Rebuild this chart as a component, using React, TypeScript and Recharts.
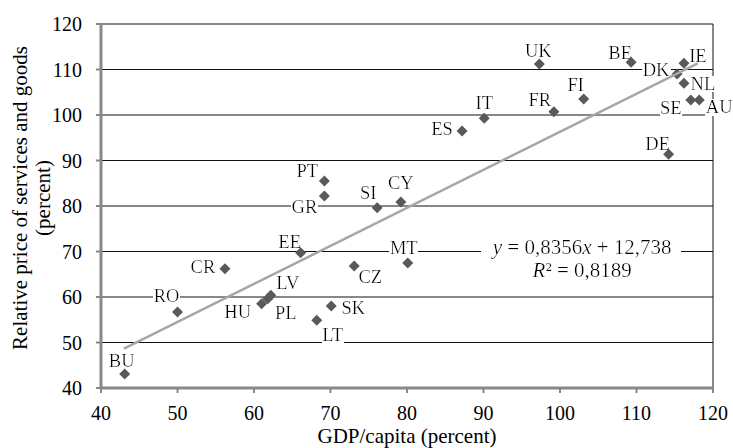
import React from "react";
import { ScatterChart, Scatter, XAxis, YAxis, CartesianGrid, ReferenceDot } from "recharts";

// EU member states: GDP per capita vs relative price level (EU = 100)
const countries = [
  "BU", "RO", "CR", "HU", "LV", "PL", "EE", "LT", "SK", "CZ", "MT", "PT", "GR", "SI",
  "CY", "ES", "IT", "UK", "FR", "FI", "BE", "DK", "IE", "NL", "SE", "AU", "DE",
];
const gdpPerCapita = [
  43.1, 50, 56.2, 61, 62.2, 61.8, 66.1, 68.2, 70.1, 73.1, 80.1, 69.2, 69.2, 76.1,
  79.2, 87.2, 90.1, 97.3, 99.2, 103.1, 109.3, 115.3, 116.2, 116.2, 117.1, 118.2, 114.2,
];
const relativePrice = [
  43.1, 56.7, 66.2, 58.5, 60.4, 59.6, 69.7, 54.9, 58, 66.8, 67.5, 85.5, 82.2, 79.6,
  80.9, 96.5, 99.3, 111.2, 100.7, 103.5, 111.6, 109, 111.4, 107, 103.3, 103.3, 91.4,
];

const xTicks = [40, 50, 60, 70, 80, 90, 100, 110, 120];
const yTicks = [40, 50, 60, 70, 80, 90, 100, 110, 120];

// linear trend shown in the chart
const slope = 0.8356;
const intercept = 12.738;
const rSquared = 0.8189;
const trendRange = [43, 118];

// where each country label sits relative to its marker (px)
const labelOffset: Record<string, [number, number]> = {
  BU: [-3, -13], RO: [-11, -16], CR: [-22, -2], HU: [-24, 8], LV: [17, -13],
  PL: [18, 14], EE: [-11, -11], LT: [16, 14], SK: [22, 1], CZ: [16, 10],
  MT: [-4, -15], PT: [-17, -10], GR: [-20, 11], SI: [-9, -15], CY: [0, -19],
  ES: [-20, -2], IT: [0, -16], UK: [-1, -14], FR: [-14, -12], FI: [-8, -15],
  BE: [-11, -10], DK: [-21, -5], IE: [14, -8], NL: [19, 0], SE: [-20, 8],
  AU: [20, 7], DE: [-11, -11],
};

const points = countries.map((name, i) => ({ name, x: gdpPerCapita[i], y: relativePrice[i] }));
const trend = trendRange.map((x) => ({ x, y: slope * x + intercept }));

const FONT = "'Liberation Serif', 'Times New Roman', serif";
const AXIS_GREY = "#888888";
const comma = (v: number) => String(v).replace(".", ",");

const Diamond = (p: any) => {
  const { cx, cy } = p;
  const r = 5.5;
  return (
    <polygon
      points={`${cx},${cy - r} ${cx + r},${cy} ${cx},${cy + r} ${cx - r},${cy}`}
      fill="#595959"
    />
  );
};

const PointLabel = (p: any) => {
  const { cx, cy } = p;
  const name = p.payload?.name ?? p.name;
  const [dx, dy] = labelOffset[name] ?? [0, -14];
  return (
    <text
      x={cx + dx}
      y={cy + dy}
      dy="0.35em"
      textAnchor="middle"
      style={{ fontFamily: FONT, fontSize: 18.5 }}
      fill="#000"
      filter="url(#labelBg)"
    >
      {name}
    </text>
  );
};

const Nothing = () => <g />;

const Equation = (p: any) => {
  const { cx, cy } = p;
  const st = { fontFamily: FONT, fontSize: 21, fontWeight: 400 };
  return (
    <g>
      <text x={cx} y={cy - 6} textAnchor="middle" fill="#000" style={st} filter="url(#eqBg)">
        <tspan fontStyle="italic">y</tspan>
        {` = ${comma(slope)}`}
        <tspan fontStyle="italic">x</tspan>
        {` + ${comma(intercept)}`}
      </text>
      <text x={cx} y={cy + 17} textAnchor="middle" fill="#000" style={st} filter="url(#eqBg)">
        <tspan fontStyle="italic">R</tspan>
        {`² = ${comma(rSquared)}`}
      </text>
    </g>
  );
};

const YTitle = (p: any) => {
  const vb = p.viewBox;
  const mid = vb.y + vb.height / 2 - 8;
  const st = { fontFamily: FONT, fontSize: 21 };
  return (
    <g>
      <text x={27} y={mid} textAnchor="middle" fill="#000" style={st} transform={`rotate(-90, 27, ${mid})`}>
        Relative price of services and goods
      </text>
      <text x={50} y={mid} textAnchor="middle" fill="#000" style={st} transform={`rotate(-90, 50, ${mid})`}>
        (percent)
      </text>
    </g>
  );
};

const XTitle = (p: any) => {
  const vb = p.viewBox;
  return (
    <text
      x={vb.x + vb.width / 2}
      y={vb.y + 55}
      textAnchor="middle"
      fill="#000"
      style={{ fontFamily: FONT, fontSize: 21 }}
    >
      GDP/capita (percent)
    </text>
  );
};

export default function App() {
  return (
    <div
      style={{
        position: "absolute", left: 0, top: 0, width: 733, height: 448,
        background: "#fff", fontFamily: FONT,
      }}
    >
      <svg width={0} height={0} style={{ position: "absolute" }}>
        <defs>
          <filter id="labelBg" x="0" y="0.12" width="1" height="0.76">
            <feFlood floodColor="#fff" />
            <feComposite in="SourceGraphic" operator="over" />
          </filter>
          <filter id="eqBg" x="-0.05" y="0" width="1.1" height="1">
            <feFlood floodColor="#fff" />
            <feComposite in="SourceGraphic" operator="over" />
          </filter>
        </defs>
      </svg>
      <ScatterChart
        width={733}
        height={448}
        margin={{ top: 24, right: 20, bottom: 0, left: 0 }}
        style={{ fontFamily: FONT }}
      >
        <CartesianGrid
          stroke="#111"
          strokeWidth={1}
          verticalCoordinatesGenerator={({ offset }: any) => [offset.left + offset.width]}
        />
        <XAxis
          type="number"
          dataKey="x"
          domain={[40, 120]}
          ticks={xTicks}
          height={60}
          axisLine={{ stroke: AXIS_GREY, strokeWidth: 3 }}
          tickLine={{ stroke: AXIS_GREY, strokeWidth: 2 }}
          tickSize={5}
          tickMargin={13}
          tick={{ fontSize: 20, fill: "#000", fontFamily: FONT }}
          label={<XTitle />}
        />
        <YAxis
          type="number"
          dataKey="y"
          domain={[40, 120]}
          ticks={yTicks}
          width={101}
          axisLine={{ stroke: AXIS_GREY, strokeWidth: 3 }}
          tickLine={{ stroke: AXIS_GREY, strokeWidth: 2 }}
          tickSize={5}
          tickMargin={14}
          tick={{ fontSize: 20, fill: "#000", fontFamily: FONT }}
          label={<YTitle />}
        />
        <Scatter data={points} shape={PointLabel} isAnimationActive={false} />
        <Scatter data={points} shape={Diamond} isAnimationActive={false} />
        <Scatter
          data={trend}
          line={{ stroke: "#a6a6a6", strokeWidth: 2.5 }}
          shape={Nothing}
          isAnimationActive={false}
        />
        <ReferenceDot x={102.9} y={68.1} r={0} shape={Equation} />
      </ScatterChart>
    </div>
  );
}
